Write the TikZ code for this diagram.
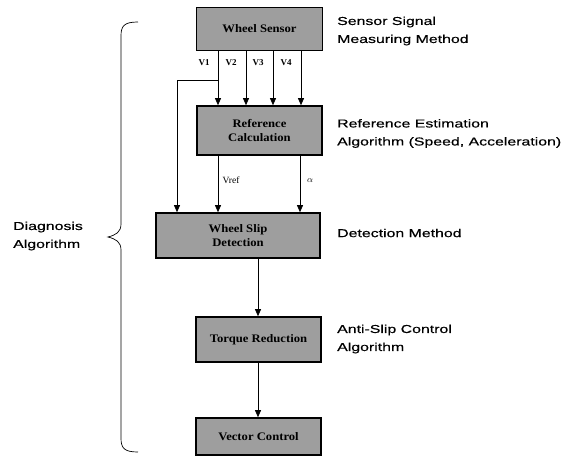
\documentclass[tikz,border=0pt]{standalone}
\usepackage{fontspec}
\setmainfont{Liberation Serif}
\newfontfamily\labelfont[FakeStretch=1.38,FakeBold=0.4]{Liberation Sans}
\newfontfamily\boxfont[FakeStretch=1.1]{Liberation Serif}
\usetikzlibrary{arrows.meta}
\begin{document}
\begin{tikzpicture}[x=1pt,y=-1pt,
  blk/.style={draw=black,line width=1.6pt,fill=black!38,font=\boxfont\bfseries\fontsize{11.5}{14}\selectfont,align=center,inner sep=0pt},
  arr/.style={line width=0.7pt,-{Triangle[width=6pt,length=7pt]}},
  ln/.style={line width=0.7pt},
  sig/.style={font=\bfseries\fontsize{9}{10}\selectfont,inner sep=1pt},
  side/.style={font=\labelfont\fontsize{11.5}{18}\selectfont,align=left,anchor=west,inner sep=0pt}]
\useasboundingbox (0,0) rectangle (586,460);
\node[blk,minimum width=126pt,minimum height=43pt] (ws) at (259.5,29) {Wheel Sensor};
\node[blk,minimum width=125pt,minimum height=49pt] (rc) at (259.5,130.5) {Reference\\Calculation};
\node[blk,minimum width=164pt,minimum height=45pt] (wsd) at (238,235.5) {Wheel Slip\\Detection};
\node[blk,minimum width=125pt,minimum height=45pt] (tr) at (258.5,339.5) {Torque Reduction};
\node[blk,minimum width=125pt,minimum height=37pt] (vc) at (258.5,436.5) {Vector Control};

\coordinate (x1) at (218,0);
\coordinate (x2) at (246,0);
\coordinate (x3) at (273,0);
\coordinate (x4) at (301,0);
\coordinate (xb) at (177,0);
\coordinate (xa) at (300,0);
\coordinate (xm) at (258,0);
\coordinate (br) at (218,80);

\draw[arr] (ws.south -| x1) -- (rc.north -| x1);
\draw[arr] (ws.south -| x2) -- (rc.north -| x2);
\draw[arr] (ws.south -| x3) -- (rc.north -| x3);
\draw[arr] (ws.south -| x4) -- (rc.north -| x4);
\draw[arr] (br) -| (wsd.north -| xb);
\draw[arr] (rc.south -| x1) -- (wsd.north -| x1);
\draw[arr] (rc.south -| xa) -- (wsd.north -| xa);
\draw[arr] (wsd.south -| xm) -- (tr.north -| xm);
\draw[arr] (tr.south -| xm) -- (vc.north -| xm);

\node[sig] (v1) at (204,63) {V1};
\node[sig] (v2) at (231,63) {V2};
\node[sig] (v3) at (258,63) {V3};
\node[sig] (v4) at (286,63) {V4};
\node[sig,font=\fontsize{9.5}{10}\selectfont] (vref) at (231,180) {Vref};
\node[sig,font=\fontsize{9.5}{10}\selectfont] (al) at (310,181) {$\alpha$};

\node[side] (t1) at (337,31) {Sensor Signal\\Measuring Method};
\node[side] (t2) at (337,133.5) {Reference Estimation\\Algorithm (Speed, Acceleration)};
\node[side] (t3) at (337,233) {Detection Method};
\node[side] (t4) at (337,339) {Anti-Slip Control\\Algorithm};
\node[side] (t5) at (13,236) {Diagnosis\\Algorithm};

\draw[ln] (138,22) .. controls (124,22) and (121,26) .. (121,36) -- (121,224)
  .. controls (121,232) and (116,235) .. (108,237)
  .. controls (116,239) and (121,242) .. (121,250) -- (121,438)
  .. controls (121,448) and (124,452) .. (138,452);
\end{tikzpicture}
\end{document}
